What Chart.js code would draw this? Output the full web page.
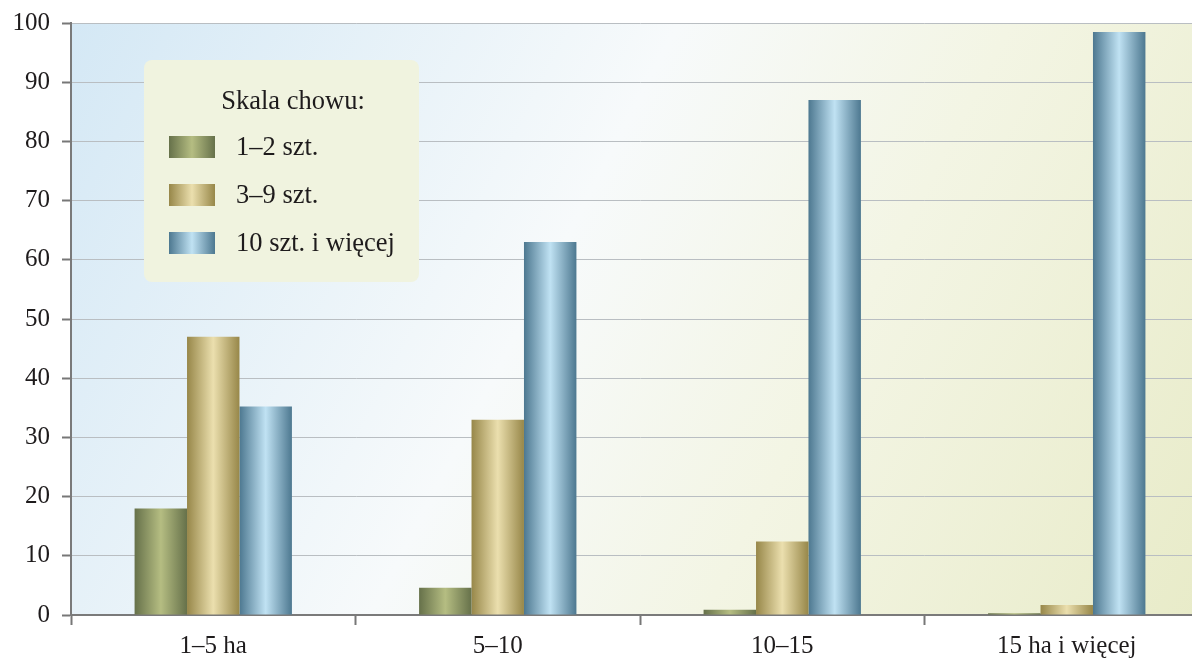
<!DOCTYPE html>
<html>
<head>
<meta charset="utf-8">
<script src="https://cdn.jsdelivr.net/npm/chart.js@4.4.0/dist/chart.umd.min.js"></script>
<style>
  html, body { margin: 0; padding: 0; background: #fff; overflow: hidden; }
  #wrap { position: relative; width: 1212px; height: 661px; }
</style>
</head>
<body>
<div id="wrap"><canvas id="farmChart"></canvas></div>
<script>
// data (percent)
const categories = ['1–5 ha', '5–10', '10–15', '15 ha i więcej'];
const seriesNames = ['1–2 szt.', '3–9 szt.', '10 szt. i więcej'];
const small = [18, 4.6, 0.9, 0.3];
const medium = [47, 33, 12.4, 1.7];
const large = [35.2, 63, 87, 98.5];
const yTicks = [0, 10, 20, 30, 40, 50, 60, 70, 80, 90, 100];
const legendTitle = 'Skala chowu:';

const FONT = '"Liberation Serif", "DejaVu Serif", serif';
const CAT_PCT = 0.553;

// edge / center colours for the cylinder-like bars
const barTones = [
    ['#66714a', '#b5bd82'],
    ['#978749', '#ebdfae'],
    ['#4d7890', '#c0e2f3']
];

function barGradient(ctx, x0, x1, tone) {
    const g = ctx.createLinearGradient(x0, 0, x1, 0);
    g.addColorStop(0, tone[0]);
    g.addColorStop(0.5, tone[1]);
    g.addColorStop(1, tone[0]);
    return g;
}

function barFill(i) {
    return function (context) {
        const chart = context.chart;
        const xs = chart.scales && chart.scales.x;
        if (!chart.chartArea || !xs || context.dataIndex === undefined) return barTones[i][0];
        const n = chart.data.labels.length;
        const cw = (xs.right - xs.left) / n;
        const bw = cw * CAT_PCT / chart.data.datasets.length;
        const cx = xs.getPixelForValue(context.dataIndex);
        const x0 = cx - bw * chart.data.datasets.length / 2 + bw * i;
        return barGradient(chart.ctx, x0, x0 + bw, barTones[i]);
    };
}

// plot background gradient
const bgPlugin = {
    id: 'plotBg',
    beforeDraw(chart) {
        const { ctx, chartArea: a } = chart;
        ctx.save();
        const g = ctx.createLinearGradient(a.left, a.top, a.right, a.bottom);
        g.addColorStop(0, '#d4e8f5');
        g.addColorStop(0.42, '#f7fafb');
        g.addColorStop(0.65, '#f3f5e4');
        g.addColorStop(1, '#e8ebc8');
        ctx.fillStyle = g;
        ctx.fillRect(a.left, a.top, a.right - a.left, a.bottom - a.top);
        ctx.restore();
    }
};

// legend box drawn inside the plot
const legendBox = {
    id: 'legendBox',
    afterDatasetsDraw(chart) {
        const ctx = chart.ctx;
        const x = 144, y = 60, w = 275, h = 222;
        ctx.save();
        ctx.fillStyle = '#f0f3df';
        ctx.beginPath();
        ctx.roundRect(x, y, w, h, 8);
        ctx.fill();
        ctx.fillStyle = '#1e1b1c';
        ctx.font = '26.5px ' + FONT;
        ctx.textBaseline = 'middle';
        ctx.textAlign = 'center';
        ctx.fillText(legendTitle, 293, 102);
        ctx.textAlign = 'left';
        chart.data.datasets.forEach(function (ds, i) {
            const ry = 147 + i * 48;
            ctx.fillStyle = barGradient(ctx, 169, 215, barTones[i]);
            ctx.fillRect(169, ry - 11, 46, 22);
            ctx.fillStyle = '#1e1b1c';
            ctx.fillText(ds.label, 236, ry + 1);
        });
        ctx.restore();
    }
};

const ctx = document.getElementById('farmChart');
new Chart(ctx.getContext('2d'), {
    type: 'bar',
    data: {
        labels: categories,
        datasets: [small, medium, large].map(function (vals, i) {
            return {
                label: seriesNames[i],
                data: vals,
                backgroundColor: barFill(i),
                borderWidth: 0,
                barPercentage: 1,
                categoryPercentage: CAT_PCT
            };
        })
    },
    options: {
        responsive: true,
        maintainAspectRatio: false,
        animation: false,
        layout: { padding: { top: 23, right: 3, left: 0, bottom: 0 } },
        scales: {
            x: {
                grid: {
                    offset: true,
                    drawOnChartArea: false,
                    tickLength: 10,
                    tickColor: '#777',
                    tickWidth: 2
                },
                border: { color: '#7a7a7a', width: 2 },
                ticks: {
                    color: '#1e1b1c',
                    font: { family: FONT, size: 25 },
                    padding: 6,
                    maxRotation: 0
                },
                afterFit(scale) {
                    scale.height = 46;
                    scale.paddingLeft = 0;
                    scale.paddingRight = 0;
                }
            },
            y: {
                min: 0,
                max: 100,
                afterBuildTicks(scale) {
                    scale.ticks = yTicks.map(function (v) { return { value: v }; });
                },
                grid: {
                    color: '#b9bec2',
                    lineWidth: 1,
                    tickLength: 9,
                    tickColor: '#777',
                    tickWidth: 2
                },
                border: { color: '#7a7a7a', width: 2 },
                ticks: {
                    color: '#1e1b1c',
                    font: { family: FONT, size: 25 },
                    padding: 12
                },
                afterFit(scale) {
                    scale.width = 71;
                    scale.paddingTop = 0;
                    scale.paddingBottom = 0;
                }
            }
        },
        plugins: {
            legend: { display: false },
            tooltip: { enabled: false }
        }
    },
    plugins: [bgPlugin, legendBox]
});
</script>
</body>
</html>
